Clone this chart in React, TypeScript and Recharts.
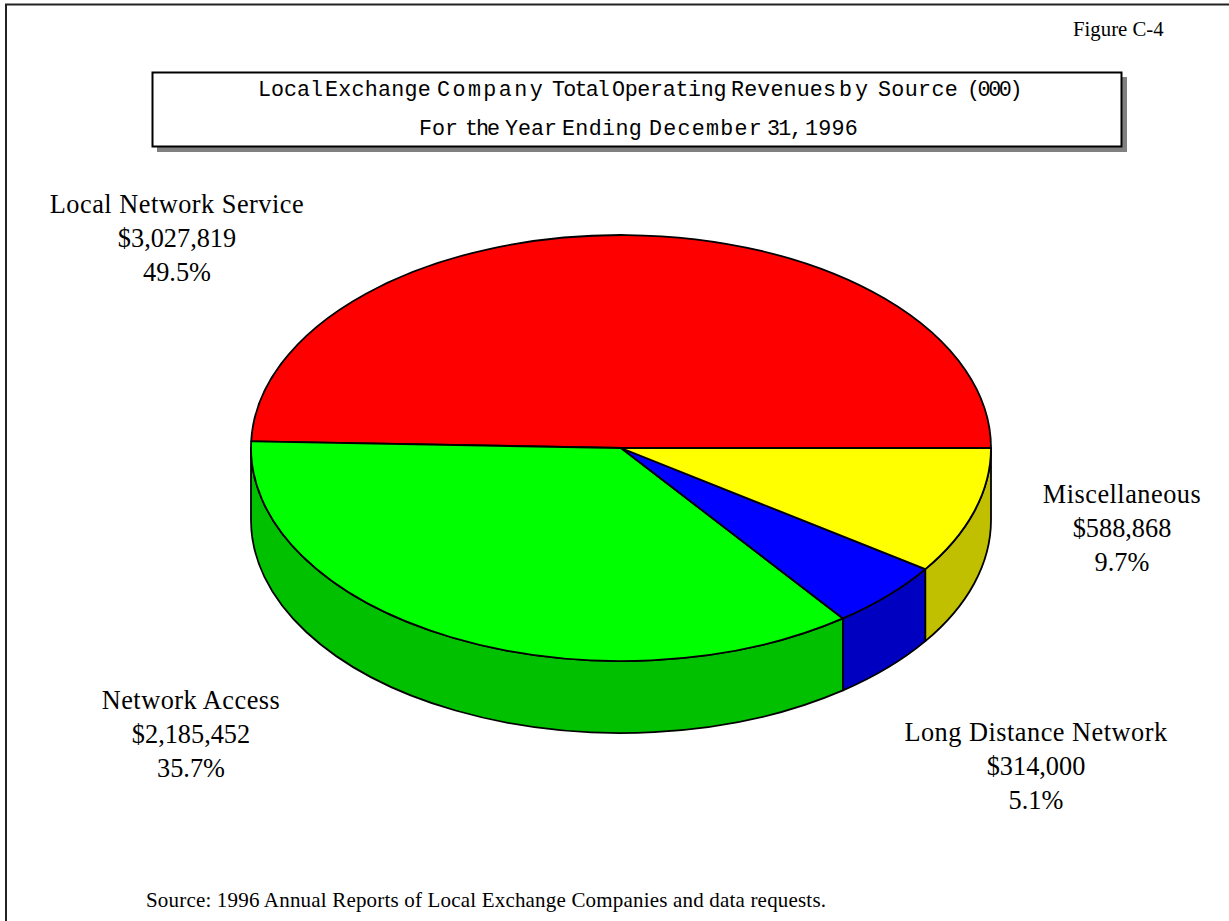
import { PieChart, Pie, Cell } from "recharts";

const categories = ["Local Network Service", "Network Access", "Long Distance Network", "Miscellaneous"];
const revenues = [3027819, 2185452, 314000, 588868];
const shares = ["49.5%", "35.7%", "5.1%", "9.7%"];
const topColors = ["#FF0000", "#00FF00", "#0000FF", "#FFFF00"];
const sideColors = ["#C00000", "#00C000", "#0000C0", "#C0C000"];

// label block centre x and first baseline
const labelSpots = [
  [177, 213],
  [191, 709],
  [1036, 741],
  [1122, 503],
];

// title runs: text, start x, end x
const titleLine1: [string, number, number][] = [
  ["Local", 258, 323], ["Exchange", 325, 431], ["Company", 437, 545], ["Total", 552, 608],
  ["Operating", 612, 726], ["Revenues", 731, 836], ["by", 839, 871], ["Source", 878, 958], ["(000)", 967, 1020],
];
const titleLine2: [string, number, number][] = [
  ["For", 419, 458], ["the", 465, 498], ["Year", 505, 557], ["Ending", 562, 642],
  ["December", 649, 763], ["31,", 767, 801], ["1996", 805, 858],
];

const WIDTH = 1229;
const HEIGHT = 921;
const SQUASH = 213 / 370; // vertical flattening of the pie
const DEPTH = 72; // height of the side wall
const SERIF = "'Liberation Serif', serif";
const MONO_ADVANCE = 13; // glyph width of the title font at its size

const chartData = categories.map((name, i) => ({ name, value: revenues[i] }));

// flattened disc sector with its wall on the front half
function DiscSector(props: any) {
  const { cx, cy, outerRadius, startAngle, endAngle, fill, index } = props;
  const rx = outerRadius;
  const ry = outerRadius * SQUASH;
  const pt = (deg: number, drop = 0) => {
    const a = (deg * Math.PI) / 180;
    return `${cx + rx * Math.cos(a)} ${cy - ry * Math.sin(a) + drop}`;
  };
  const large = endAngle - startAngle > 180 ? 1 : 0;
  const top = `M${cx} ${cy} L${pt(startAngle)} A${rx} ${ry} 0 ${large} 0 ${pt(endAngle)} Z`;

  const wallFrom = Math.max(startAngle, 180);
  const wallTo = Math.min(endAngle, 360);
  let wall = null;
  if (wallTo > wallFrom) {
    const d =
      `M${pt(wallFrom)} L${pt(wallFrom, DEPTH)} ` +
      `A${rx} ${ry} 0 0 0 ${pt(wallTo, DEPTH)} L${pt(wallTo)} ` +
      `A${rx} ${ry} 0 0 1 ${pt(wallFrom)} Z`;
    wall = <path d={d} fill={sideColors[index]} stroke="#000" strokeWidth={1.8} strokeLinejoin="round" />;
  }
  return (
    <g>
      {wall}
      <path d={top} fill={fill} stroke="#000" strokeWidth={1.8} strokeLinejoin="round" />
    </g>
  );
}

function SliceLabel(props: any) {
  const { index, value, name } = props;
  const [x, y] = labelSpots[index];
  const lines = [name, "$" + value.toLocaleString("en-US"), shares[index]];
  return (
    <text x={x} y={y} textAnchor="middle" fontFamily={SERIF} fontSize={26.3} fill="#000">
      {lines.map((t, i) => (
        <tspan key={i} x={x} y={y + i * 34} letterSpacing={i === 0 ? 0.5 : 0}>
          {t}
        </tspan>
      ))}
    </text>
  );
}

function TitleLine({ runs, y }: { runs: [string, number, number][]; y: number }) {
  return (
    <text y={y} fontFamily="'Liberation Mono', monospace" fontSize={21.7} fill="#000">
      {runs.map(([word, start, end]) => (
        <tspan key={word} x={start} y={y} letterSpacing={(end - start) / word.length - MONO_ADVANCE}>
          {word}
          <tspan fontSize={1}> </tspan>
        </tspan>
      ))}
    </text>
  );
}

export default function App() {
  return (
    <div style={{ position: "absolute", left: 0, top: 0, width: WIDTH, height: HEIGHT, background: "#fff", overflow: "hidden" }}>
      <svg width={WIDTH} height={HEIGHT} style={{ position: "absolute", left: 0, top: 0 }}>
        <path d={`M6 ${HEIGHT} V4.5 H${WIDTH}`} fill="none" stroke="#222" strokeWidth={2} />
        <rect x={157} y={77} width={970} height={75} fill="#808080" />
        <rect x={152.5} y={72.5} width={969} height={74} fill="#fff" stroke="#000" strokeWidth={2} />
        <TitleLine runs={titleLine1} y={96} />
        <TitleLine runs={titleLine2} y={135} />
        <text x={1073} y={36} fontFamily={SERIF} fontSize={20.8} fill="#000">Figure C-4</text>
        <text x={146} y={907} fontFamily={SERIF} fontSize={21} textLength={680} fill="#000">
          Source: 1996 Annual Reports of Local Exchange Companies and data requests.
        </text>
      </svg>
      <div style={{ position: "absolute", left: 0, top: 0 }}>
        <PieChart width={WIDTH} height={HEIGHT} margin={{ top: 0, right: 0, bottom: 0, left: 0 }}>
          <Pie
            data={chartData}
            dataKey="value"
            nameKey="name"
            cx={621}
            cy={448}
            innerRadius={0}
            outerRadius={370}
            startAngle={0}
            endAngle={360}
            stroke="#000"
            isAnimationActive={false}
            shape={DiscSector}
            label={SliceLabel}
            labelLine={false}
          >
            {chartData.map((d, i) => (
              <Cell key={d.name} fill={topColors[i]} />
            ))}
          </Pie>
        </PieChart>
      </div>
    </div>
  );
}
